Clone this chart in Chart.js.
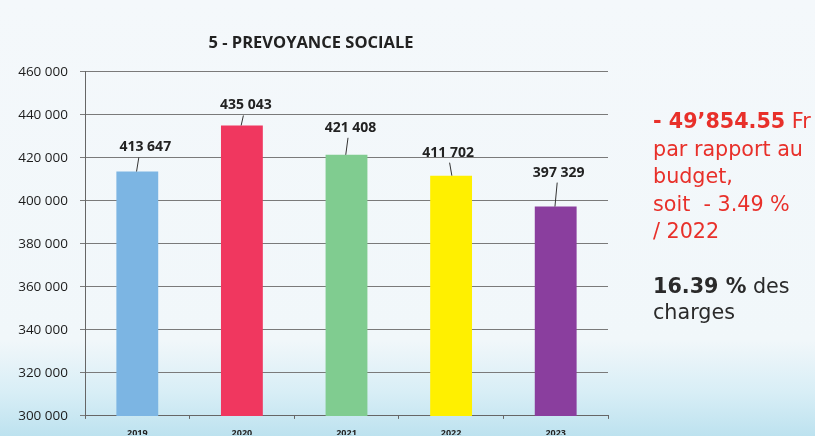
<!DOCTYPE html>
<html>
<head>
<meta charset="utf-8">
<script src="https://cdn.jsdelivr.net/npm/chart.js@4"></script>
<style>
  html, body { margin: 0; padding: 0; }
  body {
    width: 815px; height: 436px; overflow: hidden; position: relative;
    background: linear-gradient(to bottom, #f4f8fb 0%, #f1f7fa 78%, #d8eef6 90%, #bde2ef 100%);
  }
  #wrap { position: absolute; left: 0; top: 0; width: 815px; height: 436px; }
  .note {
    position: absolute; left: 653px; font-family: "DejaVu Sans", sans-serif;
    font-size: 20.7px; white-space: nowrap;
  }
  .red { color: #e8302a; line-height: 27.5px; }
  .dark { color: #2a2a2a; line-height: 25.5px; }
</style>
</head>
<body>
<div id="wrap"><canvas id="chart" width="815" height="436"></canvas></div>
<div class="note red" style="top: 108px;"><b>- 49’854.55</b> Fr<br>par rapport au<br>budget,<br>soit&nbsp; - 3.49 %<br>/ 2022</div>
<div class="note dark" style="top: 274px;"><b>16.39 %</b> des<br>charges</div>
<script>
// Data
const years = ['2019', '2020', '2021', '2022', '2023'];
const amounts = [413647, 435043, 421408, 411702, 397329];
const barColors = ['#7cb5e3', '#f0375f', '#80cc90', '#fff000', '#8a3e9e'];
const yTicks = [300000, 320000, 340000, 360000, 380000, 400000, 420000, 440000, 460000];

function fmt(n) {
    return String(n).replace(/\B(?=(\d{3})+(?!\d))/g, ' ');
}

// value labels above each bar, with a short leader line (as placed in the original)
const labelLift = [24, 20, 27, 23, 34];
const labelShift = [8, 4, 4, -3, 3];
const valueLabels = {
    id: 'valueLabels',
    afterDatasetsDraw(chart) {
        const ctx = chart.ctx;
        const meta = chart.getDatasetMeta(0);
        ctx.save();
        ctx.font = 'bold 14px "Open Sans", sans-serif';
        ctx.fillStyle = '#222';
        ctx.strokeStyle = '#333';
        ctx.lineWidth = 1;
        ctx.textAlign = 'center';
        ctx.textBaseline = 'middle';
        meta.data.forEach((bar, i) => {
            const x = bar.x, y = bar.y;
            const lift = labelLift[i];
            const tilt = labelShift[i] > 0 ? 1.5 : -1.5;
            ctx.beginPath();
            ctx.moveTo(x - tilt / 2, y);
            ctx.lineTo(x + tilt, y - lift + 10);
            ctx.stroke();
            ctx.fillText(fmt(amounts[i]), x + labelShift[i], y - lift);
        });
        ctx.restore();
    }
};

const ctx = document.getElementById('chart').getContext('2d');
new Chart(ctx, {
    type: 'bar',
    data: {
        labels: years,
        datasets: [{
            data: amounts,
            backgroundColor: barColors,
            barPercentage: 0.4,
            categoryPercentage: 1.0
        }]
    },
    options: {
        responsive: false,
        animation: false,
        layout: { padding: { left: 14, right: 207, top: 20, bottom: 0 } },
        plugins: {
            legend: { display: false },
            tooltip: { enabled: false },
            title: {
                display: true,
                text: '5 - PREVOYANCE SOCIALE',
                color: '#222',
                font: { family: '"Open Sans", sans-serif', size: 16.5, weight: 'bold' },
                padding: { top: 13, bottom: 19 }
            }
        },
        scales: {
            x: {
                afterFit: (axis) => { axis.height = 19; },
                grid: { display: true, drawOnChartArea: false, offset: true, color: '#666', tickLength: 3 },
                border: { color: '#666' },
                ticks: { color: '#222', font: { family: '"Open Sans", sans-serif', size: 9, weight: 'bold' }, padding: 9 }
            },
            y: {
                min: 300000,
                max: 460000,
                afterBuildTicks: (axis) => { axis.ticks = yTicks.map(v => ({ value: v })); },
                afterFit: (axis) => { axis.width = 71; },
                grid: { color: '#7a7a7a', tickLength: 5 },
                border: { color: '#666' },
                ticks: {
                    color: '#1c1c1c',
                    font: { family: '"Open Sans", sans-serif', size: 13.5 },
                    padding: 12,
                    callback: (v) => fmt(v)
                }
            }
        }
    },
    plugins: [valueLabels]
});
</script>
</body>
</html>
